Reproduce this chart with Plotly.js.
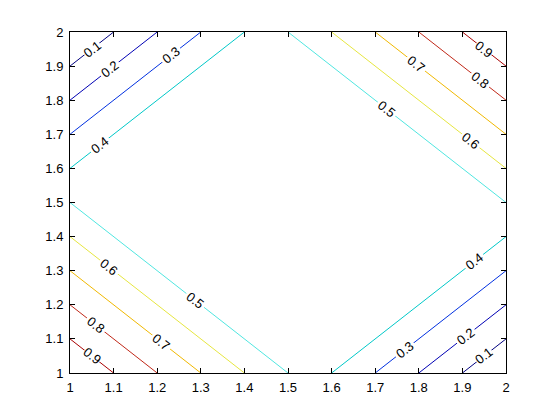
<!DOCTYPE html>
<html>
<head>
<meta charset="utf-8">
<script src="https://cdn.plot.ly/plotly-3.0.1.min.js"></script>
<style>
  html, body { margin: 0; padding: 0; background: #ffffff; }
  #chart { width: 560px; height: 420px; }
</style>
</head>
<body>
<div id="chart"></div>
<script>
// Grid coordinates of the sampled surface
const xValues = [1, 1.5, 2];
const yValues = [1, 1.5, 2];
// Surface values, one row per y value
const zRows = [
  [1.0, 0.5, 0.0],
  [0.5, 0.5, 0.5],
  [0.0, 0.5, 1.0]
];
// Contour levels
const levelStart = 0.1;
const levelEnd = 0.9;
const levelStep = 0.1;
// Axis ticks
const tickValues = [1, 1.1, 1.2, 1.3, 1.4, 1.5, 1.6, 1.7, 1.8, 1.9, 2];
const tickLabels = ['1', '1.1', '1.2', '1.3', '1.4', '1.5', '1.6', '1.7', '1.8', '1.9', '2'];

// Line colours, one per level (0.1 ... 0.9), jet-like as seen in the picture
const levelColors = ['#00007f', '#0000b4', '#0030e0', '#00c8c8', '#50e6e0',
                     '#e6e640', '#f0b800', '#c02818', '#a80000'];

const fontFamily = 'Liberation Sans, Arial, Helvetica, sans-serif';
const W = 560, H = 420;
const M = { l: 70, r: 54, t: 32, b: 47 };
const plotW = W - M.l - M.r, plotH = H - M.t - M.b;

const colorscale = levelColors.map((c, i) => [i / (levelColors.length - 1), c]);

const trace = {
  type: 'contour',
  x: xValues,
  y: yValues,
  z: zRows,
  autocontour: false,
  contours: {
    start: levelStart,
    end: levelEnd,
    size: levelStep,
    coloring: 'lines',
    showlabels: true,
    labelformat: '.1f',
    labelfont: { family: fontFamily, size: 13, color: '#000000' }
  },
  colorscale: colorscale,
  showscale: false,
  line: { width: 1, smoothing: 0 },
  hoverinfo: 'skip'
};

// Labels for contour pieces too short for plotly's automatic labelling:
// found from the grid values along the outer boundary of the grid.
const nx = xValues.length, ny = yValues.length;
const perim = [];
for (let i = 0; i < nx; i++) perim.push([i, 0]);
for (let j = 1; j < ny; j++) perim.push([nx - 1, j]);
for (let i = nx - 2; i >= 0; i--) perim.push([i, ny - 1]);
for (let j = ny - 2; j > 0; j--) perim.push([0, j]);

function toPx(p) {
  return [(p[0] - 1) / (2 - 1) * plotW, (p[1] - 1) / (2 - 1) * plotH];
}
function pxLen(a, b) {
  const pa = toPx(a), pb = toPx(b);
  return Math.hypot(pb[0] - pa[0], pb[1] - pa[1]);
}

const annotations = [];
const nLevels = Math.round((levelEnd - levelStart) / levelStep) + 1;
for (let k = 0; k < nLevels; k++) {
  const level = levelStart + k * levelStep;
  const cross = [];
  for (let n = 0; n < perim.length; n++) {
    const a = perim[n], b = perim[(n + 1) % perim.length];
    const za = zRows[a[1]][a[0]], zb = zRows[b[1]][b[0]];
    if ((za - level) * (zb - level) < 0) {
      const f = (level - za) / (zb - za);
      cross.push([
        xValues[a[0]] + f * (xValues[b[0]] - xValues[a[0]]),
        yValues[a[1]] + f * (yValues[b[1]] - yValues[a[1]])
      ]);
    }
  }
  if (cross.length < 2) continue;
  const m = cross.length;
  let pairsA = [], pairsB = [], lenA = 0, lenB = 0;
  for (let n = 0; n < m; n += 2) {
    pairsA.push([cross[n], cross[(n + 1) % m]]);
    lenA += pxLen(cross[n], cross[(n + 1) % m]);
    pairsB.push([cross[n + 1], cross[(n + 2) % m]]);
    lenB += pxLen(cross[n + 1], cross[(n + 2) % m]);
  }
  const pairs = lenA <= lenB ? pairsA : pairsB;
  pairs.forEach(([p, q]) => {
    if (pxLen(p, q) >= 90) return; // long pieces get plotly's own labels
    const pp = toPx(p), pq = toPx(q);
    let ang = Math.atan2(-(pq[1] - pp[1]), pq[0] - pp[0]) * 180 / Math.PI;
    if (ang > 90) ang -= 180;
    if (ang < -90) ang += 180;
    annotations.push({
      x: (p[0] + q[0]) / 2,
      y: (p[1] + q[1]) / 2,
      xref: 'x', yref: 'y',
      text: level.toFixed(1),
      showarrow: false,
      textangle: ang,
      bgcolor: '#ffffff',
      borderpad: 0,
      font: { family: fontFamily, size: 13, color: '#000000' }
    });
  });
}

const axisCommon = {
  range: [1, 2],
  tickmode: 'array',
  tickvals: tickValues,
  ticktext: tickLabels,
  ticks: 'inside',
  ticklen: 5,
  tickwidth: 1,
  tickcolor: '#000000',
  showline: true,
  linecolor: '#000000',
  linewidth: 1,
  mirror: 'ticks',
  showgrid: false,
  zeroline: false,
  tickfont: { family: fontFamily, size: 13, color: '#000000' }
};

const layout = {
  width: W,
  height: H,
  margin: M,
  paper_bgcolor: '#ffffff',
  plot_bgcolor: '#ffffff',
  showlegend: false,
  annotations: annotations,
  xaxis: Object.assign({}, axisCommon, { ticklabelstandoff: 2 }),
  yaxis: Object.assign({}, axisCommon, { ticklabelstandoff: 3 })
};

Plotly.newPlot('chart', [trace], layout, { displayModeBar: false, staticPlot: true });
</script>
</body>
</html>
